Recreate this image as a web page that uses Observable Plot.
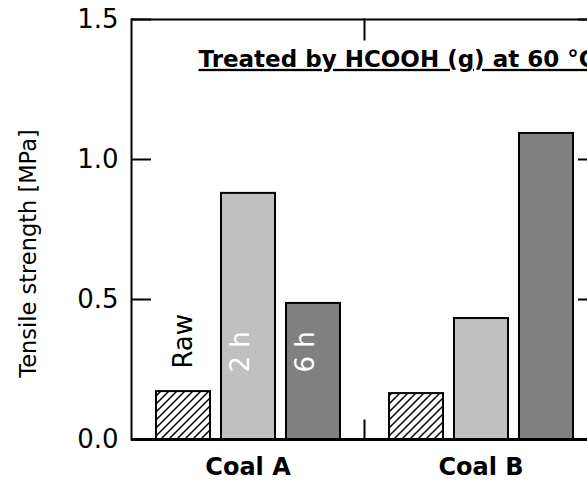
<!DOCTYPE html>
<html><head><meta charset="utf-8">
<script src="https://cdn.jsdelivr.net/npm/d3@7"></script>
<script src="https://cdn.jsdelivr.net/npm/@observablehq/plot@0.6"></script>
<style>html,body{margin:0;padding:0;overflow:hidden;background:#fff}</style>
</head><body><div id="chart"></div>
<script>
const coals = ["Coal A", "Coal B"];
const treatments = ["Raw", "2 h", "6 h"];
const coalAValues = [0.171, 0.879, 0.486];
const coalBValues = [0.164, 0.432, 1.093];
const yTicks = [0, 0.5, 1.0, 1.5];
const title = "Treated by HCOOH (g) at 60 °C";
const yLabel = "Tensile strength [MPa]";
const fills = ["url(#hatch)", "#c0c0c0", "#808080"];

const values = [coalAValues, coalBValues];
const data = coals.flatMap((c, i) => treatments.map((t, j) => ({coal: c, treatment: t, value: values[i][j], fill: fills[j]})));
const labelsA = data.filter(d => d.coal === coals[0]);

const svg = Plot.plot({
  width: 600, height: 486,
  marginLeft: 131, marginRight: 3, marginTop: 19, marginBottom: 47,
  style: {fontFamily: "DejaVu Sans", background: "white", color: "black", maxWidth: "none"},
  fx: {domain: coals, padding: 0, label: null},
  x: {domain: treatments, paddingInner: 0.17, paddingOuter: 0.377, axis: null},
  y: {domain: [0, 1.5], axis: null},
  color: {type: "identity"},
  marks: [
    Plot.barY(data, {fx: "coal", x: "treatment", y: "value", fill: "fill", stroke: "black", strokeWidth: 2}),
    Plot.text(labelsA.slice(0, 1), {fx: "coal", x: "treatment", y: "value", text: "treatment", dy: -23, rotate: -90, textAnchor: "start", fontSize: 26}),
    Plot.text(labelsA.slice(1), {fx: "coal", x: "treatment", text: "treatment", frameAnchor: "bottom", dy: -67, rotate: -90, textAnchor: "start", fill: "white", fontSize: 26}),
    Plot.ruleY([1.5], {strokeWidth: 2}),
    Plot.ruleY([0], {strokeWidth: 3}),
    Plot.frame({anchor: "left", facetAnchor: "left", strokeWidth: 2}),
    Plot.frame({anchor: "right", facetAnchor: "right", strokeWidth: 2}),
    Plot.frame({anchor: "left", facetAnchor: "right", insetBottom: 400, strokeWidth: 2}),
    Plot.frame({anchor: "left", facetAnchor: "right", insetTop: 401, strokeWidth: 2}),
    Plot.axisY(yTicks, {anchor: "left", tickFormat: d3.format(".1f"), tickSize: -20, tickPadding: 33, fontSize: 26, strokeWidth: 2, label: null}),
    Plot.axisY(yTicks, {anchor: "right", tickFormat: () => "", tickSize: -20, strokeWidth: 2, label: null}),
    Plot.axisFx({anchor: "bottom", tickSize: 0, tickPadding: 18, fontSize: 24, fontWeight: "bold", label: null}),
    Plot.text([yLabel], {frameAnchor: "left", facetAnchor: "left", rotate: -90, textAnchor: "middle", dx: -103, dy: 24, fontSize: 22.5}),
    Plot.text([title], {frameAnchor: "top-left", facetAnchor: "left", textAnchor: "start", lineAnchor: "top", dx: 67, dy: 31, fontSize: 23, fontWeight: "bold"})
  ]
});

const defs = d3.select(svg).insert("defs", ":first-child");
const pat = defs.append("pattern").attr("id", "hatch").attr("patternUnits", "userSpaceOnUse").attr("width", 8).attr("height", 8);
pat.append("rect").attr("width", 8).attr("height", 8).attr("fill", "white");
pat.append("path").attr("d", "M-2,2 l4,-4 M0,8 l8,-8 M6,10 l4,-4").attr("stroke", "black").attr("stroke-width", 1.5);
d3.select(svg).selectAll("text").filter(function() { return this.textContent === title; }).style("text-decoration", "underline");
document.getElementById("chart").appendChild(svg);
</script>
</body></html>
